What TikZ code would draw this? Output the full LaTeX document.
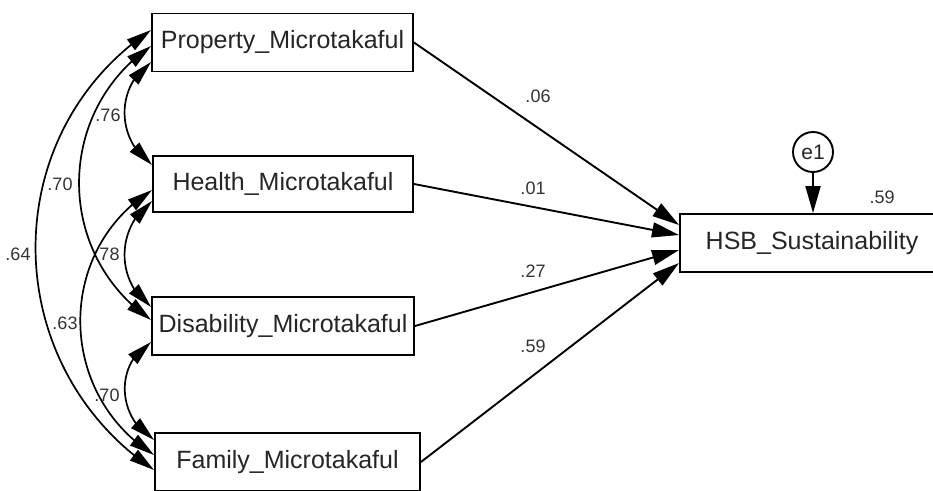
\documentclass[tikz,border=0pt]{standalone}
\usepackage{fontspec}
\setmainfont{Liberation Sans}
\usetikzlibrary{arrows.meta,bending}
\begin{document}
\begin{tikzpicture}[x=1pt,y=-1pt,
  var/.style={draw=black, line width=1.9pt, fill=white, inner sep=0pt, minimum height=58pt, text=black!85, font=\fontsize{25}{30}\selectfont},
  errc/.style={draw=black, line width=1.9pt, fill=white, circle, inner sep=0pt, minimum size=40pt, text=black!85, font=\fontsize{21}{24}\selectfont},
  reg/.style={line width=1.9pt, -{Triangle[length=27pt,width=15pt]}},
  cov/.style={line width=1.7pt, {Triangle[length=25pt,width=13pt]}-{Triangle[length=25pt,width=13pt]}},
  lab/.style={font=\fontsize{18}{20}\selectfont, text=black!80, inner sep=0pt}
]
\useasboundingbox (0,0) rectangle (933,490);
\clip (0,0) rectangle (933,490);
\node[var, minimum width=261pt] (prop) at (282.5,42.5) {Property\_Microtakaful};
\node[var, minimum width=260pt, minimum height=56pt] (health) at (283,184) {Health\_Microtakaful};
\node[var, minimum width=262pt] (disab) at (283,326) {Disability\_Microtakaful};
\node[var, minimum width=265pt] (family) at (287.5,462) {Family\_Microtakaful};
\node[var, minimum width=264pt] (hsb) at (812,243) {HSB\_Sustainability};
\node[errc] (e1) at (813,152) {e1};

% regression paths
\draw[reg] (prop.east) -- ([yshift=18pt]hsb.west);
\draw[reg] (health.east) -- ([yshift=8pt]hsb.west);
\draw[reg] (disab.east) -- ([yshift=-7pt]hsb.west);
\draw[reg] (family.east) -- ([yshift=-20pt]hsb.west);
\draw[reg] (e1) -- (e1 |- hsb.north);

% covariances
\draw[cov] ([yshift=-19.5pt]prop.west) .. controls +(-36,25) and +(-36,-25) .. ([yshift=19pt]health.west);
\draw[cov] ([yshift=-3.5pt]prop.west) .. controls +(-96,66) and +(-96,-66) .. ([yshift=6pt]disab.west);
\draw[cov] ([yshift=12.5pt]prop.west) .. controls +(-156,105) and +(-156,-105) .. ([yshift=-8pt]family.west);
\draw[cov] ([yshift=-17pt]health.west) .. controls +(-36,26) and +(-36,-26) .. ([yshift=19pt]disab.west);
\draw[cov] ([yshift=-6pt]health.west) .. controls +(-97,61) and +(-97,-61) .. ([yshift=7pt]family.west);
\draw[cov] ([yshift=-16pt]disab.west) .. controls +(-37,22) and +(-37,-22) .. ([yshift=22pt]family.west);

% labels
\node[lab] (l76) at (108,115) {.76};
\node[lab] (l70a) at (60,184) {.70};
\node[lab] (l64) at (18,254) {.64};
\node[lab] (l78) at (107,254) {.78};
\node[lab] (l63) at (65,323) {.63};
\node[lab] (l70b) at (107,395) {.70};
\node[lab] (l06) at (538,96) {.06};
\node[lab] (l01) at (533,188) {.01};
\node[lab] (l27) at (533,271) {.27};
\node[lab] (l59) at (533,346) {.59};
\node[lab] (r2) at (882,197) {.59};
\end{tikzpicture}
\end{document}
